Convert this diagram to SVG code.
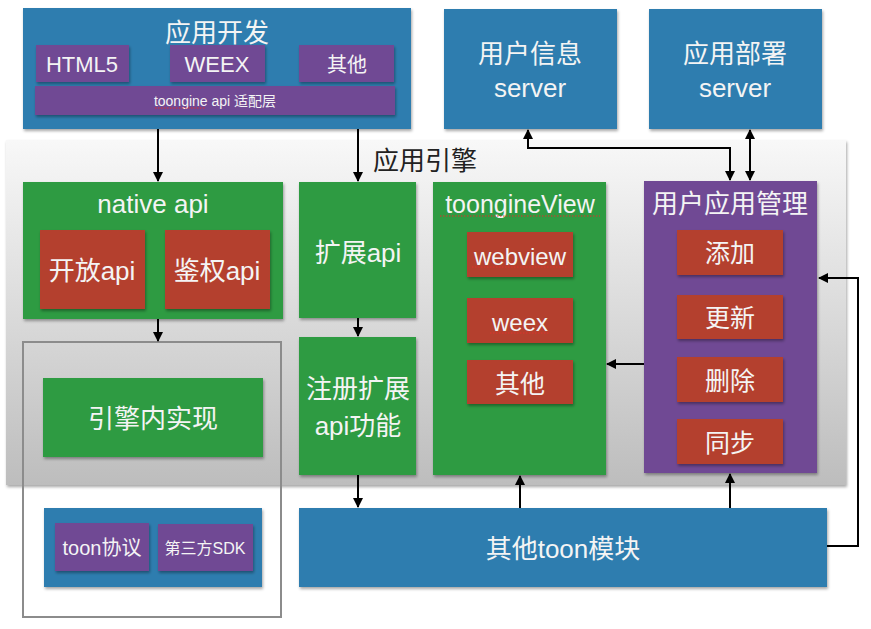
<svg xmlns="http://www.w3.org/2000/svg" width="871" height="629" viewBox="0 0 871 629">
<defs>
<style>
text{font-family:"Liberation Sans","Noto Sans CJK SC",sans-serif;fill:#f4f4f4;text-anchor:middle}
.blue{fill:#2e7daf}
.green{fill:#2f9b43}
.red{fill:#b4412f}
.purple{fill:#6f4894}
.sh{filter:url(#ds)}
.conn path{fill:none;stroke:#000;stroke-width:2}
.squig{fill:none;stroke:#e0302a;stroke-width:1.2;stroke-dasharray:1.5 1.5}
</style>
<filter id="ds" x="-10%" y="-10%" width="130%" height="140%">
<feDropShadow dx="1" dy="2" stdDeviation="1.5" flood-color="#000" flood-opacity="0.35"/>
</filter>
<linearGradient id="eng" x1="0" y1="0" x2="0" y2="1">
<stop offset="0" stop-color="#f8f8f8"/>
<stop offset="1" stop-color="#bdbdbd"/>
</linearGradient>
<marker id="ah" viewBox="0 0 10 10" refX="9" refY="5" markerWidth="5" markerHeight="5" orient="auto-start-reverse" markerUnits="strokeWidth">
<path d="M0,0 L10,5 L0,10 Z" fill="#000"/>
</marker>
</defs>
<rect width="871" height="629" fill="#fff"/>

<g id="engine">
<rect x="6" y="140" width="840" height="345" fill="url(#eng)" class="sh"/>
<text x="425" y="170" style="font-size:26px;fill:#222">应用引擎</text>
</g>

<g id="impl-frame">
<rect x="23" y="342" width="258" height="275" fill="none" stroke="#8c8c8c" stroke-width="2"/>
</g>

<g id="app-dev">
<rect x="23" y="8" width="388" height="121" class="blue sh"/>
<text x="217" y="42" style="font-size:26px">应用开发</text>
<rect x="36" y="45" width="93" height="37" class="purple sh"/>
<text x="82" y="72" style="font-size:22px">HTML5</text>
<rect x="170" y="45" width="95" height="37" class="purple sh"/>
<text x="217" y="72" style="font-size:22px">WEEX</text>
<rect x="299" y="45" width="95" height="37" class="purple sh"/>
<text x="347" y="72" style="font-size:20px">其他</text>
<rect x="35" y="86" width="360" height="29" class="purple sh"/>
<text x="215" y="106" style="font-size:14px">toongine api 适配层</text>
<path class="squig" d="M155,108 H206"/>
</g>

<g id="user-server">
<rect x="444" y="9" width="173" height="120" class="blue sh"/>
<text x="530" y="63" style="font-size:26px">用户信息</text>
<text x="530" y="97" style="font-size:26px">server</text>
</g>

<g id="deploy-server">
<rect x="649" y="9" width="173" height="120" class="blue sh"/>
<text x="735" y="63" style="font-size:26px">应用部署</text>
<text x="735" y="97" style="font-size:26px">server</text>
</g>

<g id="native-api">
<rect x="23" y="182" width="260" height="137" class="green sh"/>
<text x="153" y="213" style="font-size:26px">native api</text>
<rect x="40" y="230" width="105" height="79" class="red sh"/>
<text x="92" y="280" style="font-size:26px">开放api</text>
<rect x="165" y="230" width="105" height="79" class="red sh"/>
<text x="217" y="280" style="font-size:26px">鉴权api</text>
</g>

<g id="ext-api">
<rect x="299" y="182" width="117" height="136" class="green sh"/>
<text x="358" y="262" style="font-size:26px">扩展api</text>
</g>

<g id="reg-ext">
<rect x="299" y="337" width="117" height="138" class="green sh"/>
<text x="358" y="398" style="font-size:26px">注册扩展</text>
<text x="358" y="435" style="font-size:26px">api功能</text>
</g>

<g id="engine-impl">
<rect x="43" y="378" width="220" height="79" class="green sh"/>
<text x="153" y="428" style="font-size:26px">引擎内实现</text>
</g>

<g id="toongine-view">
<rect x="433" y="182" width="173" height="293" class="green sh"/>
<text x="520" y="213" style="font-size:25px">toongineView</text>
<path class="squig" d="M440,216 H600"/>
<rect x="467" y="232" width="106" height="45" class="red sh"/>
<text x="520" y="265" style="font-size:24px">webview</text>
<path class="squig" d="M472,267 H568"/>
<rect x="467" y="298" width="106" height="45" class="red sh"/>
<text x="520" y="331" style="font-size:24px">weex</text>
<path class="squig" d="M490,333 H550"/>
<rect x="467" y="360" width="106" height="44" class="red sh"/>
<text x="520" y="393" style="font-size:25px">其他</text>
</g>

<g id="app-manage">
<rect x="644" y="181" width="173" height="292" class="purple sh"/>
<text x="730" y="213" style="font-size:26px">用户应用管理</text>
<rect x="677" y="230" width="106" height="45" class="red sh"/>
<text x="730" y="262" style="font-size:25px">添加</text>
<rect x="677" y="295" width="106" height="44" class="red sh"/>
<text x="730" y="327" style="font-size:25px">更新</text>
<rect x="677" y="357" width="106" height="45" class="red sh"/>
<text x="730" y="390" style="font-size:25px">删除</text>
<rect x="677" y="419" width="106" height="45" class="red sh"/>
<text x="730" y="452" style="font-size:25px">同步</text>
</g>

<g id="toon-base">
<rect x="44" y="508" width="218" height="79" class="blue sh"/>
<rect x="55" y="523" width="94" height="48" class="purple sh"/>
<text x="102" y="555" style="font-size:20px">toon协议</text>
<rect x="158" y="524" width="95" height="47" class="purple sh"/>
<text x="205" y="554" style="font-size:16px">第三方SDK</text>
</g>

<g id="other-toon">
<rect x="299" y="508" width="528" height="79" class="blue sh"/>
<text x="563" y="558" style="font-size:26px">其他toon模块</text>
</g>

<g class="conn" id="connectors">
<path d="M158,129 V181" marker-end="url(#ah)"/>
<path d="M358,129 V181" marker-end="url(#ah)"/>
<path d="M158,319 V341" marker-end="url(#ah)"/>
<path d="M358,318 V336" marker-end="url(#ah)"/>
<path d="M730,180 V148 H528 V130" marker-start="url(#ah)" marker-end="url(#ah)"/>
<path d="M750,130 V180" marker-start="url(#ah)" marker-end="url(#ah)"/>
<path d="M644,364 H607" marker-end="url(#ah)"/>
<path d="M358,475 V507" marker-end="url(#ah)"/>
<path d="M520,508 V476" marker-end="url(#ah)"/>
<path d="M730,508 V474" marker-end="url(#ah)"/>
<path d="M827,546 H858 V278 H819" marker-end="url(#ah)"/>
</g>
</svg>
